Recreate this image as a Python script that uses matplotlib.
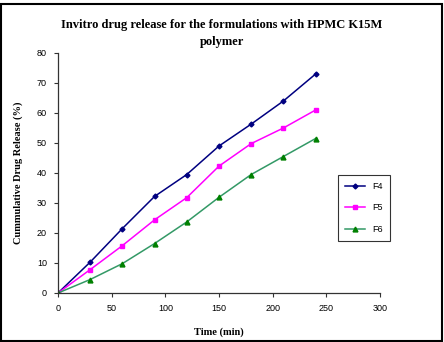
import matplotlib.pyplot as plt
from matplotlib.patches import Rectangle

# Release data (time in min, cumulative release in %)
time_min = [0, 30, 60, 90, 120, 150, 180, 210, 240]
f4 = [0, 10.3, 21.5, 32.2, 39.5, 49.0, 56.3, 64.0, 73.0]
f5 = [0, 7.8, 15.8, 24.4, 31.8, 42.3, 49.8, 55.0, 61.0]
f6 = [0, 4.5, 9.8, 16.5, 23.7, 31.9, 39.5, 45.5, 51.5]

serif = 'Liberation Serif'
sans = 'Liberation Sans'

fig = plt.figure(figsize=(4.44, 3.42), dpi=100)
ax = fig.add_axes([58/444, 49/342, 322/444, 240/342])

ax.plot(time_min, f4, color='#000080', marker='D', markersize=2.5, lw=1.1, label='F4')
ax.plot(time_min, f5, color='#FF00FF', marker='s', markersize=3, lw=1.1, label='F5')
ax.plot(time_min, f6, color='#339966', marker='^', markersize=3.5, lw=1.1,
        markerfacecolor='#008000', markeredgecolor='#008000', label='F6')

ax.set_xlim(0, 300)
ax.set_ylim(0, 80)
ax.set_xticks(range(0, 301, 50))
ax.set_yticks(range(0, 81, 10))
for s in ['top', 'right']:
    ax.spines[s].set_visible(False)
for s in ['left', 'bottom']:
    ax.spines[s].set_color('#333333')
    ax.spines[s].set_linewidth(0.9)
ax.tick_params(length=3, width=0.8, color='#333333', labelsize=6.5, pad=5)
for lab in ax.get_xticklabels() + ax.get_yticklabels():
    lab.set_fontfamily(sans)

ax.set_xlabel('Time (min)', fontfamily=serif, fontweight='bold', fontsize=7.5, labelpad=10)
ax.set_ylabel('Cummulative Drug Release (%)', fontfamily=serif, fontweight='bold',
              fontsize=7.5, labelpad=10)
fig.text(0.5, 0.945, 'Invitro drug release for the formulations with HPMC K15M\npolymer',
         ha='center', va='top', fontfamily=serif, fontweight='bold', fontsize=9,
         linespacing=1.6)

leg = ax.legend(loc='upper left', bbox_to_anchor=(333/444, 172/342),
                bbox_transform=fig.transFigure, frameon=True,
                fancybox=False, edgecolor='black', handlelength=2.2,
                labelspacing=1.4, borderpad=0.8, prop={'family': sans, 'size': 6.5})
leg.get_frame().set_linewidth(0.8)

fig.patches.append(Rectangle((1/444, 1/342), 441/444, 337/342, transform=fig.transFigure,
                             fill=False, edgecolor='black', linewidth=1.5))

fig.savefig('out.png', dpi=100)
